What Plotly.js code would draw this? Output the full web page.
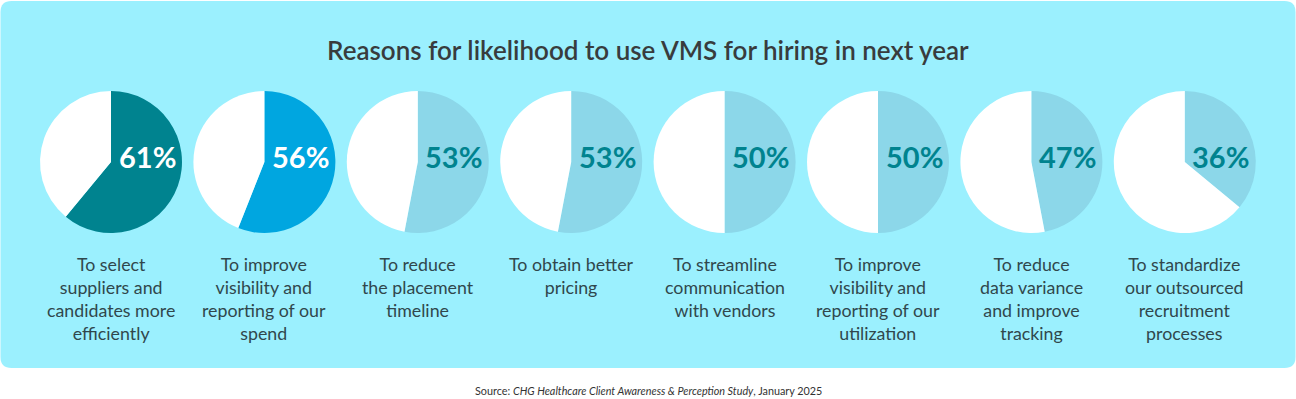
<!DOCTYPE html>
<html><head><meta charset="utf-8">
<script src="https://cdn.plot.ly/plotly-3.0.1.min.js"></script>
<style>html,body{margin:0;padding:0;background:#fff}#chart{width:1296px;height:399px}</style>
</head><body><div id="chart"></div>
<script>
const categories = [
  "To select<br>suppliers and<br>candidates more<br>efficiently",
  "To improve<br>visibility and<br>reporting of our<br>spend",
  "To reduce<br>the placement<br>timeline",
  "To obtain better<br>pricing",
  "To streamline<br>communication<br>with vendors",
  "To improve<br>visibility and<br>reporting of our<br>utilization",
  "To reduce<br>data variance<br>and improve<br>tracking",
  "To standardize<br>our outsourced<br>recruitment<br>processes"
];
const values = [61, 56, 53, 53, 50, 50, 47, 36];
const sliceColors = ["#00838f", "#00a6e0", "#8cd7e9", "#8cd7e9", "#8cd7e9", "#8cd7e9", "#8cd7e9", "#8cd7e9"];
const pctColors = ["#ffffff", "#ffffff", "#00838f", "#00838f", "#00838f", "#00838f", "#00838f", "#00838f"];

const W = 1296, H = 399;
const cx0 = 111, step = 153.4, cy = 162, r = 71;
const px = x => x / W, py = y => 1 - y / H;
const FONT = 'Lato, "Open Sans", sans-serif';

const traces = [];
const annotations = [];
values.forEach((v, i) => {
  const cx = cx0 + step * i;
  traces.push({
    type: 'pie',
    values: [v, 100 - v],
    labels: ['Yes', 'Other'],
    sort: false,
    direction: 'clockwise',
    rotation: 0,
    textinfo: 'none',
    hoverinfo: 'skip',
    showlegend: false,
    marker: {colors: [sliceColors[i], '#ffffff'], line: {width: 0}},
    domain: {x: [px(cx - r), px(cx + r)], y: [py(cy + r), py(cy - r)]}
  });
  annotations.push({
    xref: 'paper', yref: 'paper', x: px(cx + 36), y: py(157),
    xanchor: 'center', yanchor: 'middle', showarrow: false,
    text: '<b>' + v + '%</b>',
    font: {family: FONT, size: 29, color: pctColors[i]}
  });
  annotations.push({
    xref: 'paper', yref: 'paper', x: px(cx), y: py(252),
    xanchor: 'center', yanchor: 'top', align: 'center', showarrow: false,
    borderpad: 0,
    text: categories[i],
    font: {family: FONT, size: 17.8, color: '#30474c'}
  });
});

annotations.push({
  xref: 'paper', yref: 'paper', x: 0.5, y: py(50),
  xanchor: 'center', yanchor: 'middle', showarrow: false,
  text: 'Reasons for likelihood to use VMS for hiring in next year',
  font: {family: FONT, size: 26, color: '#383c3d', weight: 600}
});
annotations.push({
  xref: 'paper', yref: 'paper', x: 0.5, y: py(390),
  xanchor: 'center', yanchor: 'middle', showarrow: false,
  text: 'Source: <i>CHG Healthcare Client Awareness &amp; Perception Study</i>, January 2025',
  font: {family: FONT, size: 10.8, color: '#333333'}
});

// rounded panel
const L = 0.5, R = 1295.5, T = 1, B = 368, rr = 11;
const panelPath = [
  'M', px(L + rr), py(T),
  'L', px(R - rr), py(T),
  'Q', px(R), py(T), px(R), py(T + rr),
  'L', px(R), py(B - rr),
  'Q', px(R), py(B), px(R - rr), py(B),
  'L', px(L + rr), py(B),
  'Q', px(L), py(B), px(L), py(B - rr),
  'L', px(L), py(T + rr),
  'Q', px(L), py(T), px(L + rr), py(T), 'Z'
].join(' ').replace(/ ([\d.\-]+) ([\d.\-]+)/g, ' $1,$2');

const layout = {
  width: W, height: H,
  margin: {l: 0, r: 0, t: 0, b: 0},
  paper_bgcolor: '#ffffff',
  showlegend: false,
  shapes: [{type: 'path', xref: 'paper', yref: 'paper', path: panelPath,
            fillcolor: '#9bf0fe', line: {width: 0}, layer: 'below'}],
  annotations: annotations
};

Plotly.newPlot('chart', traces, layout, {displayModeBar: false, staticPlot: true});
</script>
</body></html>
